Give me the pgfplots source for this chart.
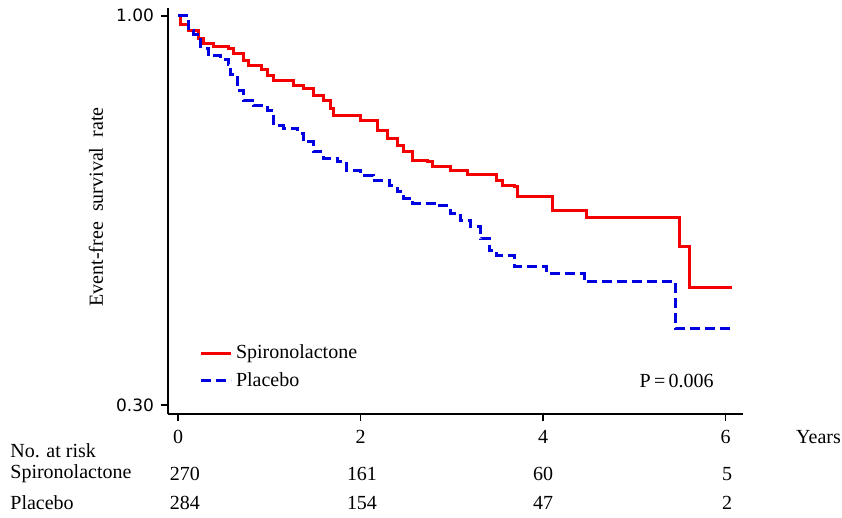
\documentclass[border=0pt]{standalone}
\usepackage{fontspec}
\setmainfont{Liberation Serif}
\newfontfamily\ticksans{DejaVu Sans}
\usepackage{pgfplots}
\pgfplotsset{compat=1.18}
\definecolor{kmred}{RGB}{245,0,0}
\definecolor{kmblue}{RGB}{0,0,225}

% Kaplan-Meier steps: time (years), survival
\pgfplotstableread{
t s
0.00 1.000
0.03 0.984
0.12 0.973
0.22 0.960
0.28 0.951
0.39 0.944
0.55 0.942
0.61 0.933
0.72 0.919
0.77 0.910
0.91 0.903
0.98 0.892
1.05 0.883
1.27 0.874
1.37 0.870
1.48 0.857
1.59 0.848
1.67 0.834
1.70 0.821
2.00 0.812
2.11 0.811
2.18 0.793
2.29 0.780
2.40 0.767
2.47 0.756
2.57 0.740
2.73 0.738
2.79 0.729
2.98 0.722
3.17 0.715
3.49 0.704
3.55 0.695
3.69 0.693
3.72 0.675
4.10 0.650
4.48 0.637
5.49 0.585
5.60 0.511
6.07 0.511
}\spiro

\pgfplotstableread{
t s
0.00 1.000
0.12 0.973
0.17 0.966
0.25 0.942
0.33 0.928
0.47 0.921
0.55 0.912
0.58 0.894
0.65 0.865
0.72 0.848
0.83 0.839
0.98 0.829
1.05 0.803
1.16 0.798
1.31 0.789
1.37 0.774
1.48 0.756
1.59 0.744
1.75 0.738
1.85 0.722
2.00 0.713
2.14 0.704
2.32 0.695
2.40 0.684
2.47 0.672
2.57 0.663
2.87 0.659
2.98 0.645
3.09 0.632
3.20 0.621
3.31 0.599
3.41 0.578
3.49 0.569
3.69 0.549
4.04 0.536
4.45 0.522
5.45 0.437
6.07 0.437
}\placebo

\begin{document}
\begin{tikzpicture}[font=\fontsize{10}{12}\selectfont]
\useasboundingbox (-84pt,-52pt) rectangle (337pt,207pt);
\begin{axis}[
  at={(0,0)}, anchor=south west,
  scale only axis,
  width=287.5pt, height=203pt,
  xmin=-0.11, xmax=6.19,
  ymin=0.284, ymax=1.014,
  axis x line=bottom, axis y line=left,
  axis line style={-, line width=0.8pt},
  tick align=outside,
  major tick length=3.5pt,
  tick style={line width=0.8pt, black},
  xtick={0,2,4,6},
  ytick={0.3,1},
  yticklabels={0.30,1.00},
  /pgf/number format/assume math mode=true,
  xticklabel style={font=\fontsize{10}{12}\selectfont, yshift=-1pt},
  yticklabel style={font=\ticksans\fontsize{8.5}{10}\selectfont},
  ylabel={Event-free\ \ survival\ \ rate},
  ylabel style={font=\fontsize{10}{12}\selectfont, at={(rel axis cs:0,0.51)}, anchor=center, yshift=36pt},
  legend style={draw=none, fill=none, at={(axis cs:0.16,0.3684)}, anchor=west,
    row sep=1.5pt, font=\fontsize{10}{12}\selectfont},
  legend cell align=left,
  legend image code/.code={\draw[#1] (0pt,0pt) -- (15pt,0pt);},
  clip=false,
]
\addplot[const plot, kmred, line width=1.5pt] table[x=t, y=s] {\spiro};
\addlegendentry{Spironolactone}
\addplot[const plot, kmblue, line width=1.5pt, dash pattern=on 5pt off 2.5pt] table[x=t, y=s] {\placebo};
\addlegendentry{Placebo}
\node[anchor=west] at (axis cs:4.98,0.343) {P\,=\,0.006};
\end{axis}
% number at risk table
\node[inner sep=0pt] at (325.25pt,-11.5pt) {Years};
\node[anchor=west, inner sep=5pt] at (-84pt,-18.5pt) {No. at risk};
\node[anchor=west, inner sep=5pt] at (-84pt,-30pt) {Spironolactone};
\node[anchor=west, inner sep=5pt] at (-84pt,-44.5pt) {Placebo};
\node at (8.5pt,-30pt) {270};
\node at (97pt,-30pt) {161};
\node at (187.5pt,-30pt) {60};
\node at (279.5pt,-30pt) {5};
\node at (8.5pt,-44.5pt) {284};
\node at (97pt,-44.5pt) {154};
\node at (187.5pt,-44.5pt) {47};
\node at (279.5pt,-44.5pt) {2};
\end{tikzpicture}
\end{document}
